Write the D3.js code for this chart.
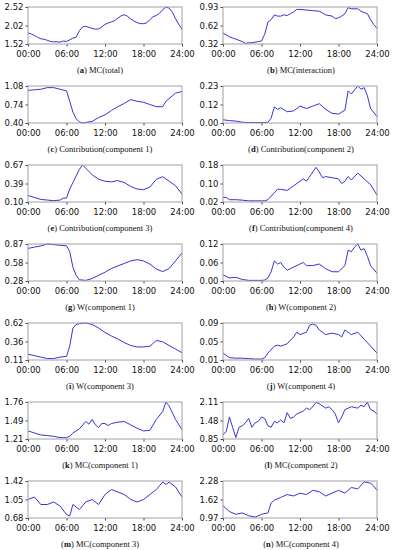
<!DOCTYPE html>
<html>
<head>
<meta charset="utf-8">
<script src="https://cdn.jsdelivr.net/npm/d3@7"></script>
<style>
  body { margin: 0; background: #fff; }
</style>
</head>
<body>
<div id="chart"></div>
<script>
/**
 * DATA
 * */
const panelLetters = ["a", "b", "c", "d", "e", "f", "g", "h", "i", "j", "k", "l", "m", "n"];
const panelTitles = [
  "MC(total)", "MC(interaction)",
  "Contribution(component 1)", "Contribution(component 2)",
  "Contribution(component 3)", "Contribution(component 4)",
  "W(component 1)", "W(component 2)",
  "W(component 3)", "W(component 4)",
  "MC(component 1)", "MC(component 2)",
  "MC(component 3)", "MC(component 4)"
];
const yTickLabels = [
  ["1.52", "2.02", "2.52"], ["0.32", "0.62", "0.93"],
  ["0.40", "0.74", "1.08"], ["0.00", "0.12", "0.23"],
  ["0.10", "0.39", "0.67"], ["0.02", "0.10", "0.18"],
  ["0.28", "0.58", "0.87"], ["0.00", "0.06", "0.12"],
  ["0.11", "0.36", "0.62"], ["0.01", "0.05", "0.09"],
  ["1.21", "1.49", "1.76"], ["0.85", "1.48", "2.11"],
  ["0.68", "1.05", "1.42"], ["0.97", "1.62", "2.28"]
];
const xTickHours = [0, 6, 12, 18, 24];

// [hour, value]
const mcTotal = [[0,1.82],[0.5,1.79],[1,1.75],[1.5,1.70],[2,1.66],[2.5,1.65],[3,1.62],[3.5,1.59],[4,1.58],[4.5,1.58],[5,1.57],[5.5,1.60],[6,1.59],[6.5,1.63],[7,1.68],[7.5,1.70],[8,1.88],[8.5,1.98],[9,2.00],[9.5,1.97],[10,1.94],[10.5,1.92],[11,1.93],[11.5,1.98],[12,2.05],[12.5,2.09],[13,2.12],[13.5,2.15],[14,2.22],[14.5,2.28],[15,2.31],[15.5,2.27],[16,2.20],[16.5,2.14],[17,2.10],[17.5,2.07],[18,2.07],[18.5,2.09],[19,2.18],[19.5,2.26],[20,2.29],[20.5,2.35],[21,2.45],[21.5,2.52],[22,2.49],[22.5,2.38],[23,2.20],[23.5,2.05],[24,1.92]];
const mcInteraction = [[0,0.50],[0.5,0.47],[1,0.44],[1.5,0.42],[2,0.40],[2.5,0.38],[3,0.36],[3.5,0.33],[4,0.34],[4.5,0.34],[5,0.35],[5.5,0.36],[6,0.37],[6.5,0.48],[7,0.68],[7.5,0.72],[8,0.80],[8.5,0.78],[9,0.78],[9.5,0.80],[10,0.79],[10.5,0.82],[11,0.85],[11.5,0.89],[12,0.89],[13,0.88],[14,0.87],[15,0.86],[15.5,0.83],[16,0.80],[17,0.78],[17.5,0.74],[18,0.75],[18.5,0.78],[19,0.82],[19.5,0.92],[20,0.90],[21,0.90],[21.5,0.86],[22,0.84],[22.5,0.82],[23,0.72],[23.5,0.64],[24,0.58]];
const contrib1 = [[0,1.00],[1,1.01],[2,1.02],[3,1.05],[4,1.05],[5,1.02],[6,0.99],[6.5,0.80],[7,0.60],[7.5,0.48],[8,0.42],[8.5,0.40],[9,0.41],[10,0.43],[11,0.50],[12,0.55],[13,0.63],[14,0.70],[15,0.76],[16,0.83],[17,0.80],[18,0.78],[19,0.74],[20,0.70],[21,0.70],[21.5,0.80],[22,0.85],[23,0.95],[24,0.98]];
const contrib2 = [[0,0.020],[1,0.015],[2,0.012],[3,0.005],[4,0.003],[5,0.003],[6,0.003],[7,0.004],[7.5,0.030],[8,0.100],[8.5,0.085],[9,0.095],[10,0.070],[11,0.075],[12,0.105],[13,0.090],[14,0.105],[15,0.120],[16,0.085],[17,0.060],[18,0.055],[19,0.080],[19.5,0.200],[20,0.180],[21,0.230],[21.5,0.210],[22,0.220],[22.5,0.170],[23,0.090],[24,0.040]];
const contrib3 = [[0,0.20],[1,0.17],[2,0.14],[3,0.13],[4,0.12],[5,0.13],[5.5,0.16],[6,0.16],[6.5,0.30],[7,0.40],[8,0.60],[8.5,0.67],[9,0.62],[10,0.52],[11,0.45],[12,0.42],[13,0.41],[14,0.43],[15,0.40],[16,0.34],[17,0.30],[18,0.29],[19,0.33],[20,0.45],[21,0.49],[22,0.42],[23,0.35],[24,0.22]];
const contrib4 = [[0,0.040],[0.5,0.040],[1,0.030],[2,0.030],[3,0.028],[4,0.025],[5,0.025],[6,0.025],[6.5,0.025],[7,0.030],[8,0.060],[8.5,0.075],[9,0.075],[10,0.070],[11,0.090],[12,0.110],[12.5,0.120],[13,0.110],[14,0.150],[14.5,0.170],[15,0.150],[15.5,0.125],[16,0.130],[17,0.125],[18,0.120],[18.5,0.100],[19,0.110],[19.5,0.130],[20,0.115],[21,0.145],[22,0.120],[23,0.095],[24,0.050]];
const wComp1 = [[0,0.80],[1,0.82],[2,0.84],[3,0.87],[4,0.86],[5,0.85],[6,0.84],[6.5,0.75],[7,0.50],[7.5,0.37],[8,0.30],[9,0.29],[10,0.32],[11,0.37],[12,0.42],[13,0.48],[14,0.52],[15,0.56],[16,0.60],[17,0.62],[18,0.60],[19,0.55],[20,0.47],[21,0.43],[22,0.48],[23,0.60],[24,0.73]];
const wComp2 = [[0,0.020],[0.5,0.015],[1,0.010],[2,0.012],[3,0.005],[4,0.002],[5,0.002],[6,0.002],[6.5,0.003],[7,0.010],[7.5,0.030],[8,0.065],[8.5,0.055],[9,0.060],[9.5,0.045],[10,0.035],[11,0.045],[12,0.055],[12.5,0.060],[13,0.050],[14,0.050],[15,0.055],[16,0.040],[17,0.030],[18,0.030],[19,0.050],[19.5,0.100],[20,0.095],[20.5,0.110],[21,0.120],[21.5,0.100],[22,0.105],[22.5,0.080],[23,0.050],[24,0.025]];
const wComp3 = [[0,0.19],[1,0.17],[2,0.15],[3,0.13],[4,0.13],[5,0.15],[6,0.16],[6.5,0.30],[7,0.55],[7.5,0.60],[8,0.61],[9,0.62],[10,0.60],[11,0.55],[12,0.49],[13,0.44],[14,0.40],[15,0.35],[16,0.31],[17,0.29],[18,0.29],[19,0.30],[19.5,0.34],[20,0.38],[21,0.36],[22,0.31],[23,0.26],[24,0.21]];
const wComp4 = [[0,0.025],[0.5,0.020],[1,0.015],[2,0.014],[3,0.014],[4,0.013],[5,0.012],[6,0.012],[6.5,0.015],[7,0.025],[8,0.040],[8.5,0.042],[9,0.040],[10,0.045],[11,0.060],[11.5,0.070],[12,0.065],[13,0.070],[13.5,0.085],[14,0.088],[14.5,0.085],[15,0.075],[16,0.065],[17,0.068],[18,0.065],[18.5,0.060],[19,0.075],[19.5,0.070],[20,0.065],[21,0.070],[22,0.055],[23,0.040],[24,0.025]];
const mcComp1 = [[0,1.33],[1,1.30],[2,1.27],[3,1.26],[4,1.25],[5,1.23],[6,1.23],[6.5,1.25],[7,1.30],[8,1.36],[9,1.47],[9.5,1.43],[10,1.50],[10.5,1.42],[11,1.38],[11.5,1.44],[12,1.44],[12.5,1.41],[13,1.44],[14,1.46],[15,1.47],[16,1.42],[17,1.37],[18,1.33],[19,1.34],[20,1.50],[21,1.62],[21.5,1.76],[22,1.70],[23,1.50],[24,1.35]];
const mcComp2 = [[0,1.00],[0.5,1.10],[1,1.60],[1.5,1.25],[2,0.90],[2.5,1.25],[3,1.30],[3.5,1.40],[4,1.55],[4.5,1.25],[5,1.40],[5.5,1.45],[6,1.60],[6.5,1.55],[7,1.30],[7.5,1.25],[8,1.45],[8.5,1.40],[9,1.50],[9.5,1.40],[10,1.75],[10.5,1.55],[11,1.60],[11.5,1.70],[12,1.75],[12.5,1.80],[13,1.90],[13.5,1.85],[14,1.95],[14.5,2.10],[15,2.05],[16,1.90],[16.5,1.95],[17,1.85],[17.5,1.70],[18,1.40],[18.5,1.60],[19,1.85],[19.5,1.90],[20,1.95],[21,1.90],[21.5,2.00],[22,1.95],[22.5,2.10],[23,1.85],[23.5,1.80],[24,1.70]];
const mcComp3 = [[0,1.05],[1,1.10],[2,0.95],[3,0.95],[4,1.00],[5,0.92],[6,0.75],[6.5,0.72],[7,0.95],[8,0.85],[9,1.00],[10,1.05],[11,0.95],[12,1.15],[13,1.25],[14,1.20],[15,1.15],[16,1.05],[17,1.00],[18,1.05],[19,1.15],[20,1.25],[21,1.40],[21.5,1.35],[22,1.40],[23,1.30],[24,1.10]];
const mcComp4 = [[0,1.40],[1,1.20],[2,1.10],[3,1.15],[4,1.05],[5,1.00],[6,1.10],[7,1.15],[7.5,1.50],[8,1.60],[9,1.70],[10,1.80],[11,1.75],[12,1.85],[13,1.80],[14,1.95],[15,1.90],[16,1.75],[17,1.85],[18,1.95],[19,1.85],[20,2.05],[21,2.00],[22,2.25],[23,2.20],[23.5,2.10],[24,1.95]];

const allSeries = [mcTotal, mcInteraction, contrib1, contrib2, contrib3, contrib4,
  wComp1, wComp2, wComp3, wComp4, mcComp1, mcComp2, mcComp3, mcComp4];

/**
 * LAYOUT
 * */
const width = 395, height = 550;
const colLeft = [28, 223], plotW = 154, plotH = 37;
const rowTop0 = 7, rowStep = 79;
const captionX = [100, 301];
const lineColor = "#3535d6", boxColor = "#a0a0a0";
const tickFont = 8.5;

const svg = d3.select("#chart")
  .append("svg")
  .attr("width", width)
  .attr("height", height)
  .style("font-family", "'DejaVu Sans', sans-serif");

allSeries.forEach((data, i) => {
  const col = i % 2, row = Math.floor(i / 2);
  const x0 = colLeft[col], y0 = rowTop0 + row * rowStep;
  const labels = yTickLabels[i];
  const lo = +labels[0], hi = +labels[2];

  const x = d3.scaleLinear().domain([0, 24]).range([x0, x0 + plotW]);
  const y = d3.scaleLinear().domain([lo, hi]).range([y0 + plotH, y0]);

  const g = svg.append("g");

  // x axis
  g.append("g")
    .attr("transform", `translate(0,${y0 + plotH})`)
    .call(d3.axisBottom(x).tickValues(xTickHours)
      .tickFormat(d => d3.format("02")(d) + ":00").tickSize(2.5).tickPadding(4))
    .call(a => a.select(".domain").remove())
    .call(a => a.selectAll("line").attr("stroke", "#444"))
    .call(a => a.selectAll("text").attr("font-size", tickFont).attr("fill", "#111")
      .attr("font-family", "'DejaVu Sans', sans-serif"));

  // y axis
  g.append("g")
    .attr("transform", `translate(${x0},0)`)
    .call(d3.axisLeft(y).tickValues([lo, (lo + hi) / 2, hi])
      .tickFormat((d, k) => labels[k]).tickSize(2.5).tickPadding(2))
    .call(a => a.select(".domain").remove())
    .call(a => a.selectAll("line").attr("stroke", "#444"))
    .call(a => a.selectAll("text").attr("font-size", tickFont).attr("fill", "#111")
      .attr("font-family", "'DejaVu Sans', sans-serif"));

  // line
  const line = d3.line()
    .x(d => x(d[0]))
    .y(d => y(d[1]));
  g.append("path")
    .datum(data)
    .attr("fill", "none")
    .attr("stroke", lineColor)
    .attr("stroke-width", 1)
    .attr("stroke-linejoin", "round")
    .attr("d", line);

  // frame
  g.append("rect")
    .attr("x", x0)
    .attr("y", y0)
    .attr("width", plotW)
    .attr("height", plotH)
    .attr("fill", "none")
    .attr("stroke", boxColor)
    .attr("stroke-width", 1);

  // caption
  const cap = g.append("text")
    .attr("x", captionX[col])
    .attr("y", y0 + plotH + 29)
    .attr("text-anchor", "middle")
    .attr("font-family", "'Liberation Serif', 'DejaVu Serif', serif")
    .attr("font-size", 8.5)
    .attr("fill", "#111");
  cap.append("tspan").text("(");
  cap.append("tspan").attr("font-weight", "bold").text(panelLetters[i]);
  cap.append("tspan").text(") " + panelTitles[i]);
});
</script>
</body>
</html>
